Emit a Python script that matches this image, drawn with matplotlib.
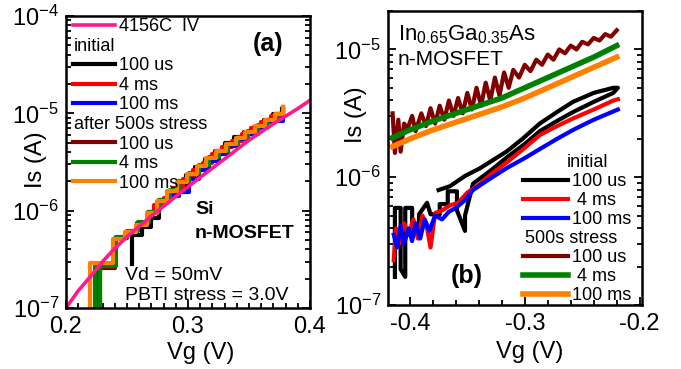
import numpy as np
import matplotlib
matplotlib.use('Agg')
import matplotlib.pyplot as plt
from matplotlib.lines import Line2D
from matplotlib.ticker import LogLocator, FixedLocator, MultipleLocator, FuncFormatter, NullFormatter, FormatStrFormatter

plt.rcParams['font.family'] = ['Liberation Sans', 'DejaVu Sans']
plt.rcParams['mathtext.fontset'] = 'custom'
plt.rcParams['mathtext.rm'] = 'Liberation Sans'
plt.rcParams['mathtext.it'] = 'Liberation Sans:italic'
plt.rcParams['mathtext.bf'] = 'Liberation Sans:bold'
plt.rcParams['mathtext.default'] = 'regular'
plt.rcParams['axes.unicode_minus'] = False

# ---------------- panel (a): Si n-MOSFET ----------------
a_vg_4156 = [0.20, 0.21, 0.22, 0.23, 0.24, 0.25, 0.27, 0.29, 0.31, 0.33, 0.35, 0.37, 0.39, 0.40]
a_is_4156 = [1.0e-7, 1.5e-7, 2.1e-7, 3.0e-7, 4.1e-7, 5.4e-7, 8.8e-7, 1.4e-6, 2.2e-6, 3.4e-6,
             5.3e-6, 7.8e-6, 1.12e-5, 1.36e-5]

a_vg_init_100us = [0.254, 0.254, 0.262, 0.270, 0.276, 0.283, 0.291, 0.298, 0.306, 0.314,
                   0.322, 0.330, 0.338, 0.346, 0.354, 0.362, 0.370, 0.377]
a_is_init_100us = [2.8e-7, 5.6e-7, 6.8e-7, 8.5e-7, 1.2e-6, 1.45e-6, 1.8e-6, 2.3e-6, 2.8e-6, 3.4e-6,
                   4.1e-6, 4.9e-6, 5.7e-6, 6.5e-6, 7.3e-6, 8.5e-6, 9.8e-6, 1.1e-5]
a_vg_init_4ms = [0.268, 0.272, 0.280, 0.288, 0.296, 0.304, 0.312, 0.320, 0.328, 0.336,
                 0.344, 0.352, 0.360, 0.368, 0.378]
a_is_init_4ms = [9.5e-7, 1.15e-6, 1.35e-6, 1.7e-6, 2.1e-6, 2.6e-6, 3.1e-6, 3.8e-6, 4.5e-6, 5.2e-6,
                 6.1e-6, 7.0e-6, 8.1e-6, 9.4e-6, 1.12e-5]
a_vg_init_100ms = [0.285, 0.293, 0.301, 0.309, 0.317, 0.325, 0.333, 0.341, 0.349, 0.357,
                   0.365, 0.378]
a_is_init_100ms = [1.4e-6, 1.55e-6, 2.1e-6, 2.6e-6, 3.2e-6, 3.8e-6, 4.6e-6, 5.4e-6, 6.2e-6, 7.2e-6,
                   8.4e-6, 1.1e-5]

a_vg_str_100us = [0.2254, 0.2254, 0.240, 0.250, 0.258, 0.267, 0.276, 0.284, 0.292, 0.300,
                  0.308, 0.316, 0.324, 0.332, 0.340, 0.348, 0.356, 0.364, 0.372, 0.378]
a_is_str_100us = [5e-8, 2.6e-7, 5.2e-7, 6.1e-7, 7.4e-7, 9.6e-7, 1.28e-6, 1.6e-6, 1.95e-6, 2.4e-6,
                  2.9e-6, 3.5e-6, 4.1e-6, 4.8e-6, 5.6e-6, 6.5e-6, 7.4e-6, 8.5e-6, 9.8e-6, 1.15e-5]
a_vg_str_4ms = [0.2238, 0.2238, 0.2280, 0.2280, 0.2410, 0.2500, 0.2590, 0.2680, 0.2766, 0.2850,
                0.2930, 0.3010, 0.3090, 0.3170, 0.3250, 0.3330, 0.3410, 0.3490, 0.3570, 0.3650,
                0.3730, 0.3780]
a_is_str_4ms = [5e-8, 2.7e-7, 5e-8, 2.7e-7, 5.4e-7, 6.2e-7, 7.6e-7, 9.8e-7, 1.3e-6, 1.62e-6,
                2.0e-6, 2.45e-6, 2.95e-6, 3.55e-6, 4.15e-6, 4.85e-6, 5.65e-6, 6.55e-6, 7.5e-6, 8.6e-6,
                9.9e-6, 1.15e-5]
a_vg_str_100ms = [0.2197, 0.2197, 0.2385, 0.2484, 0.2570, 0.2660, 0.2746, 0.2830, 0.2910, 0.2990,
                  0.3070, 0.3150, 0.3230, 0.3310, 0.3390, 0.3470, 0.3550, 0.3630, 0.3710, 0.3780]
a_is_str_100ms = [5e-8, 2.9e-7, 5.1e-7, 6.0e-7, 7.2e-7, 9.5e-7, 1.27e-6, 1.6e-6, 1.95e-6, 2.4e-6,
                  2.9e-6, 3.5e-6, 4.1e-6, 4.8e-6, 5.6e-6, 6.5e-6, 7.4e-6, 8.5e-6, 9.8e-6, 1.15e-5]

# ---------------- panel (b): InGaAs n-MOSFET (log10 of Is) ----------------
b_vg_init_100us = [-0.413, -0.413, -0.408, -0.408, -0.404, -0.404, -0.398, -0.398, -0.392, -0.392,
                   -0.385, -0.382, -0.374, -0.374, -0.367, -0.367, -0.359, -0.359, -0.352, -0.352,
                   -0.345, -0.330, -0.315, -0.300, -0.287, -0.272, -0.258, -0.240, -0.223, -0.219,
                   -0.223, -0.240, -0.258, -0.272, -0.287, -0.302, -0.316, -0.339, -0.352, -0.365,
                   -0.375]
b_log_init_100us = [-6.78, -6.24, -6.24, -6.72, -6.78, -6.24, -6.24, -6.42, -6.42, -6.29,
                    -6.20, -6.29, -6.29, -6.21, -6.21, -6.11, -6.11, -6.26, -6.42, -6.30,
                    -6.05, -5.95, -5.84, -5.74, -5.64, -5.56, -5.49, -5.41, -5.34, -5.30,
                    -5.30, -5.34, -5.41, -5.49, -5.58, -5.70, -5.80, -5.93, -5.99, -6.07,
                    -6.10]
b_vg_init_4ms = [-0.414, -0.412, -0.409, -0.405, -0.401, -0.397, -0.393, -0.389, -0.385, -0.382,
                 -0.378, -0.372, -0.365, -0.358, -0.350, -0.340, -0.330, -0.315, -0.300, -0.287,
                 -0.272, -0.258, -0.240, -0.223, -0.219]
b_log_init_4ms = [-6.65, -6.40, -6.52, -6.36, -6.45, -6.33, -6.48, -6.30, -6.40, -6.55,
                  -6.28, -6.26, -6.22, -6.20, -6.12, -6.06, -5.98, -5.88, -5.77, -5.67,
                  -5.60, -5.54, -5.47, -5.40, -5.39]
b_vg_init_100ms = [-0.414, -0.411, -0.408, -0.405, -0.401, -0.398, -0.395, -0.391, -0.387, -0.383,
                   -0.378, -0.372, -0.366, -0.360, -0.352, -0.345, -0.330, -0.316, -0.300, -0.287,
                   -0.272, -0.258, -0.240, -0.219]
b_log_init_100ms = [-6.45, -6.55, -6.38, -6.52, -6.40, -6.50, -6.36, -6.48, -6.33, -6.42,
                    -6.30, -6.33, -6.27, -6.24, -6.18, -6.10, -6.01, -5.93, -5.85, -5.78,
                    -5.70, -5.63, -5.55, -5.47]

b_vg_str_100us = [-0.415, -0.413, -0.410, -0.408, -0.405, -0.402, -0.398, -0.395, -0.390, -0.386,
                  -0.382, -0.378, -0.374, -0.370, -0.366, -0.362, -0.358, -0.354, -0.350, -0.346,
                  -0.342, -0.338, -0.334, -0.330, -0.326, -0.322, -0.318, -0.314, -0.310, -0.305,
                  -0.300, -0.295, -0.290, -0.285, -0.280, -0.275, -0.270, -0.265, -0.260, -0.255,
                  -0.250, -0.245, -0.240, -0.235, -0.230, -0.225, -0.220]
b_log_str_100us = [-5.50, -5.81, -5.55, -5.80, -5.58, -5.62, -5.52, -5.64, -5.50, -5.60,
                   -5.46, -5.58, -5.44, -5.55, -5.40, -5.52, -5.38, -5.50, -5.34, -5.47,
                   -5.30, -5.44, -5.26, -5.40, -5.22, -5.36, -5.18, -5.30, -5.16, -5.22,
                   -5.12, -5.17, -5.08, -5.12, -5.04, -5.08, -5.00, -5.03, -4.97, -5.00,
                   -4.94, -4.96, -4.91, -4.93, -4.88, -4.90, -4.85]
b_vg_str_4ms = [-0.415, -0.400, -0.380, -0.360, -0.340, -0.320, -0.300, -0.280, -0.260, -0.240, -0.220]
b_log_str_4ms = [-5.69, -5.63, -5.56, -5.50, -5.44, -5.38, -5.30, -5.22, -5.14, -5.06, -4.97]
b_vg_str_100ms = [-0.415, -0.400, -0.380, -0.360, -0.340, -0.320, -0.300, -0.280, -0.260, -0.240, -0.220]
b_log_str_100ms = [-5.76, -5.70, -5.63, -5.57, -5.51, -5.45, -5.38, -5.30, -5.22, -5.14, -5.06]

PINK = '#FF1A8C'
BLACK = '#000000'
RED = '#FF0000'
BLUE = '#0000FF'
DKRED = '#800000'
GREEN = '#008000'
ORANGE = '#FF8000'

TICK_FS = 17
LAB_FS = 17
KEY_FS = 13


def style_axes(ax, xmajor, xminor):
    ax.set_yscale('log')
    for sp in ax.spines.values():
        sp.set_linewidth(1.8)
    ax.xaxis.set_major_locator(FixedLocator(xmajor))
    ax.xaxis.set_minor_locator(MultipleLocator(xminor))
    ax.xaxis.set_major_formatter(FormatStrFormatter('%.1f'))
    ax.yaxis.set_major_locator(LogLocator(base=10, numticks=10))
    ax.yaxis.set_minor_locator(LogLocator(base=10, subs=np.arange(2, 10), numticks=10))
    ax.yaxis.set_major_formatter(FuncFormatter(lambda v, p: '10$^{%d}$' % round(np.log10(v))))
    ax.yaxis.set_minor_formatter(NullFormatter())
    ax.tick_params(which='both', direction='in', left=True, right=True, top=False, bottom=True,
                   labelsize=TICK_FS, width=1.3)
    ax.tick_params(which='major', length=6)
    ax.tick_params(which='minor', length=3.5)
    ax.tick_params(axis='y', which='major', pad=5)
    ax.tick_params(axis='x', which='major', pad=6)


def add_key(ax, handles, labels, anchor, hlen, spacing, shifts):
    leg = ax.legend(handles, labels, loc='upper left', bbox_to_anchor=anchor, frameon=False,
                    fontsize=KEY_FS, handlelength=hlen, handletextpad=0.2, labelspacing=spacing,
                    borderpad=0, borderaxespad=0)
    # headers ("initial", "stress") sit left of the label column
    texts = leg.get_texts()
    for i, dx in shifts.items():
        texts[i].set_x(-dx)
    return leg


fig = plt.figure(figsize=(6.81, 3.69), dpi=100)
ax_a = fig.add_axes([66 / 681, 1 - 308 / 369, 244 / 681, 292 / 369])
ax_b = fig.add_axes([388 / 681, 1 - 305 / 369, 254 / 681, 294 / 369])

# ---- panel (a)
lw = 3
l_b100us, = ax_a.plot(a_vg_init_100us, a_is_init_100us, color=BLACK, lw=lw, drawstyle='steps-post')
l_r4ms, = ax_a.plot(a_vg_init_4ms, a_is_init_4ms, color=RED, lw=lw, drawstyle='steps-post')
l_b100ms, = ax_a.plot(a_vg_init_100ms, a_is_init_100ms, color=BLUE, lw=lw, drawstyle='steps-post')
l_d100us, = ax_a.plot(a_vg_str_100us, a_is_str_100us, color=DKRED, lw=lw, drawstyle='steps-post')
l_g4ms, = ax_a.plot(a_vg_str_4ms, a_is_str_4ms, color=GREEN, lw=lw, drawstyle='steps-post')
l_o100ms, = ax_a.plot(a_vg_str_100ms, a_is_str_100ms, color=ORANGE, lw=lw, drawstyle='steps-post')
l_pink, = ax_a.plot(a_vg_4156, a_is_4156, color=PINK, lw=2.6)

style_axes(ax_a, [0.2, 0.3, 0.4], 0.01)
ax_a.set_xlim(0.2, 0.4)
ax_a.set_ylim(1e-7, 1e-4)
ax_a.set_xlabel('Vg (V)', fontsize=LAB_FS, va='center')
ax_a.xaxis.set_label_coords(0.553, -0.154)
ax_a.set_ylabel('Is (A)', fontsize=LAB_FS, va='center')
ax_a.yaxis.set_label_coords(-0.123, 0.507)

blank = Line2D([], [], color='none')
add_key(ax_a,
        [l_pink, blank, l_b100us, l_r4ms, l_b100ms, blank, l_d100us, l_g4ms, l_o100ms],
        ['4156C  IV', 'initial', '100 us', '4 ms', '100 ms', 'after 500s stress', '100 us', '4 ms', '100 ms'],
        (0.029, 0.992), 2.33, 0.14, {1: 45, 5: 45})

ax_a.text(0.828, 0.904, '(a)', transform=ax_a.transAxes, fontsize=18, fontweight='bold',
          ha='center', va='center')
ax_a.text(0.529, 0.322, 'Si', transform=ax_a.transAxes, fontsize=14, fontweight='bold', va='baseline')
ax_a.text(0.529, 0.240, 'n-MOSFET', transform=ax_a.transAxes, fontsize=14, fontweight='bold', va='baseline')
ax_a.text(0.242, 0.096, 'Vd = 50mV', transform=ax_a.transAxes, fontsize=14, va='baseline')
ax_a.text(0.242, 0.027, 'PBTI stress = 3.0V', transform=ax_a.transAxes, fontsize=14, va='baseline')

# ---- panel (b)
lw_b = 3
m_b100us, = ax_b.plot(b_vg_init_100us, np.power(10.0, b_log_init_100us), color=BLACK, lw=lw_b)
m_r4ms, = ax_b.plot(b_vg_init_4ms, np.power(10.0, b_log_init_4ms), color=RED, lw=lw_b)
m_b100ms, = ax_b.plot(b_vg_init_100ms, np.power(10.0, b_log_init_100ms), color=BLUE, lw=lw_b)
m_d100us, = ax_b.plot(b_vg_str_100us, np.power(10.0, b_log_str_100us), color=DKRED, lw=lw_b)
m_g4ms, = ax_b.plot(b_vg_str_4ms, np.power(10.0, b_log_str_4ms), color=GREEN, lw=4)
m_o100ms, = ax_b.plot(b_vg_str_100ms, np.power(10.0, b_log_str_100ms), color=ORANGE, lw=4)

style_axes(ax_b, [-0.4, -0.3, -0.2], 0.02)
ax_b.set_xlim(-0.419, -0.198)
ax_b.set_ylim(1e-7, 2e-5)
ax_b.set_xlabel('Vg (V)', fontsize=LAB_FS, va='center')
ax_b.xaxis.set_label_coords(0.559, -0.160)
ax_b.set_ylabel('Is (A)', fontsize=LAB_FS, va='center')
ax_b.yaxis.set_label_coords(-0.126, 0.646)

add_key(ax_b,
        [blank, m_b100us, m_r4ms, m_b100ms, blank, m_d100us, m_g4ms, m_o100ms],
        ['initial', '100 us', ' 4 ms', '100 ms', '500s stress', '100 us', ' 4 ms', '100 ms'],
        (0.531, 0.513), 2.5, 0.11, {0: 5, 4: 47})

ax_b.text(0.039, 0.901, 'In$_{0.65}$Ga$_{0.35}$As', transform=ax_b.transAxes, fontsize=16, va='baseline')
ax_b.text(0.039, 0.816, 'n-MOSFET', transform=ax_b.transAxes, fontsize=15, va='baseline')
ax_b.text(0.311, 0.099, '(b)', transform=ax_b.transAxes, fontsize=18, fontweight='bold',
          ha='center', va='center')

fig.savefig('out.png', dpi=100)
